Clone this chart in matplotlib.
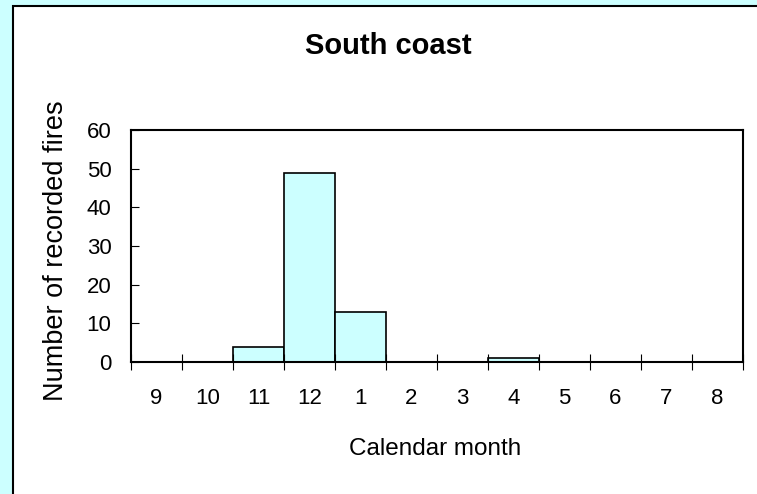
import matplotlib
matplotlib.use("Agg")
import matplotlib.pyplot as plt
from matplotlib.patches import Rectangle

months = ["9", "10", "11", "12", "1", "2", "3", "4", "5", "6", "7", "8"]
fires = [0, 0, 4, 49, 13, 0, 0, 1, 0, 0, 0, 0]
y_ticks = [0, 10, 20, 30, 40, 50, 60]

plt.rcParams["font.family"] = ["Liberation Sans", "DejaVu Sans"]

W, H = 757, 494
fig = plt.figure(figsize=(W / 100, H / 100), dpi=100)
fig.patch.set_facecolor("#ccffff")

# white chart area with black border (runs off the right and bottom edges)
fig.patches.append(Rectangle((13 / W, -0.1), 1.2, 1 - 6 / H + 0.1,
                             transform=fig.transFigure, facecolor="white",
                             edgecolor="black", linewidth=1.5, zorder=-5))

ax = fig.add_axes([131 / W, 1 - 362 / H, (743 - 131) / W, (362 - 130) / H])
ax.set_zorder(2)
ax.set_facecolor("white")
x = range(len(months))
ax.bar(x, fires, width=1.0, color="#ccffff", edgecolor="black", linewidth=1.2)
ax.set_xlim(-0.5, len(months) - 0.5)
ax.set_ylim(0, 60)
ax.set_yticks(y_ticks)
ax.tick_params(axis="y", direction="in", length=6, labelsize=16, pad=14)
# category boundaries get the tick marks, labels sit between them
ax.set_xticks([i - 0.5 for i in range(len(months) + 1)])
ax.set_xticklabels([])
ax.set_xticks(list(x), minor=True)
ax.set_xticklabels(months, minor=True)
ax.tick_params(axis="x", which="major", direction="inout", length=12)
ax.tick_params(axis="x", which="minor", length=0, labelsize=16, pad=19)
for s in ax.spines.values():
    s.set_linewidth(1.5)

xl = ax.set_xlabel("Calendar month", fontsize=17.5)
ax.xaxis.set_label_coords(0.497, -0.375)
xl.set_va("center")
yl = ax.set_ylabel("Number of recorded fires", fontsize=19.5)
ax.yaxis.set_label_coords(-0.1225, 0.478)
yl.set_va("center")
fig.text(388 / W, 1 - 46 / H, "South coast", fontsize=21, fontweight="bold",
         ha="center", va="center")

fig.savefig("out.png", dpi=100, facecolor=fig.get_facecolor())
